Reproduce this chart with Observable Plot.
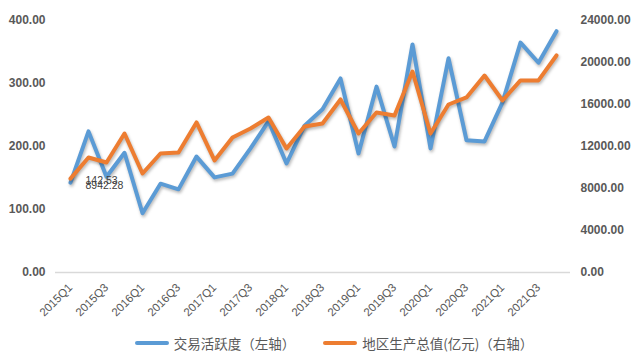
<!DOCTYPE html>
<html>
<head>
<meta charset="utf-8">
<script src="https://cdn.jsdelivr.net/npm/d3@7"></script>
<script src="https://cdn.jsdelivr.net/npm/@observablehq/plot@0.6"></script>
<style>
  body { margin: 0; background: #fff; font-family: "Noto Sans CJK SC", "Liberation Sans", sans-serif; }
  #chart { width: 640px; height: 358px; overflow: hidden; }
  .legend { display: flex; justify-content: center; align-items: center; padding-left: 28px; margin-top: 4px; font-size: 13.5px; color: #595959; height: 22px; }
  .legend .item { display: flex; align-items: center; margin: 0 14px; }
  .legend .sw { display: inline-block; width: 34px; height: 4px; border-radius: 2px; margin-right: 5px; }
</style>
</head>
<body>
<div id="chart"></div>
<script>
const quarters = [
  "2015Q1","2015Q2","2015Q3","2015Q4",
  "2016Q1","2016Q2","2016Q3","2016Q4",
  "2017Q1","2017Q2","2017Q3","2017Q4",
  "2018Q1","2018Q2","2018Q3","2018Q4",
  "2019Q1","2019Q2","2019Q3","2019Q4",
  "2020Q1","2020Q2","2020Q3","2020Q4",
  "2021Q1","2021Q2","2021Q3","2021Q4"
];
const activity = [
  142.53, 224, 152, 190,
  94, 141, 132, 184,
  151, 157, 197, 240,
  173, 233, 259, 308,
  189, 295, 200, 362,
  197, 340, 210, 208,
  270, 365, 333, 383
];
const gdp = [
  8942.28, 10950, 10480, 13240,
  9430, 11330, 11430, 14290,
  10670, 12860, 13710, 14760,
  11810, 13900, 14190, 16480,
  13240, 15240, 14950, 19140,
  13240, 16000, 16670, 18760,
  16380, 18290, 18290, 20670
];
const leftTicks = [0, 100, 200, 300, 400];
const rightTicks = [0, 4000, 8000, 12000, 16000, 20000, 24000];
const xTickLabels = quarters.filter((q, i) => i % 2 === 0);
const seriesNames = ["交易活跃度（左轴）", "地区生产总值(亿元)（右轴）"];
const seriesColors = ["#5B9BD5", "#ED7D31"];
const labelValues = [activity[0], gdp[0]];

const ratio = rightTicks[rightTicks.length - 1] / leftTicks[leftTicks.length - 1];
const actData = quarters.map((q, i) => ({q, v: activity[i]}));
const gdpData = quarters.map((q, i) => ({q, v: gdp[i]}));

const chart = Plot.plot({
  width: 640,
  height: 328,
  marginLeft: 55,
  marginRight: 70,
  marginTop: 20,
  marginBottom: 56,
  x: {type: "point", domain: quarters, padding: 0.44},
  y: {domain: [0, 400]},
  style: {fontFamily: "'Liberation Sans', Arial, sans-serif", color: "#595959", background: "white"},
  marks: [
    Plot.ruleY([0], {stroke: "#d9d9d9", strokeWidth: 1.5}),
    Plot.axisY(leftTicks, {tickSize: 0, tickPadding: 10, tickFormat: d => d.toFixed(2), fontWeight: "bold", fontSize: 12, label: null}),
    Plot.axisY(rightTicks.map(v => v / ratio), {anchor: "right", tickSize: 0, tickPadding: 10, tickFormat: d => (d * ratio).toFixed(2), fontWeight: "bold", fontSize: 12, label: null}),
    Plot.axisX(xTickLabels, {tickSize: 0, tickPadding: 13, tickRotate: -45, fontSize: 11.5, label: null}),
    Plot.line(actData, {x: "q", y: "v", stroke: seriesColors[0], strokeWidth: 4, strokeLinejoin: "round", strokeLinecap: "round"}),
    Plot.line(gdpData, {x: "q", y: d => d.v / ratio, stroke: seriesColors[1], strokeWidth: 4, strokeLinejoin: "round", strokeLinecap: "round"}),
    Plot.text([{q: quarters[0], v: activity[0]}], {x: "q", y: "v", text: () => labelValues[0].toFixed(2), dx: 15, dy: -2, textAnchor: "start", fontSize: 10.5, fill: "#404040"}),
    Plot.text([{q: quarters[0], v: gdp[0] / ratio}], {x: "q", y: "v", text: () => labelValues[1].toFixed(2), dx: 15, dy: 7, textAnchor: "start", fontSize: 10.5, fill: "#404040"})
  ]
});
d3.select(chart).selectAll("g[aria-label='line'] path").style("filter", "drop-shadow(1px 2px 1.5px rgba(0,0,0,0.28))");
document.getElementById("chart").appendChild(chart);

const legend = document.createElement("div");
legend.className = "legend";
seriesNames.forEach((name, i) => {
  const item = document.createElement("div");
  item.className = "item";
  const sw = document.createElement("span");
  sw.className = "sw";
  sw.style.background = seriesColors[i];
  const t = document.createElement("span");
  t.textContent = name;
  item.appendChild(sw);
  item.appendChild(t);
  legend.appendChild(item);
});
document.getElementById("chart").appendChild(legend);
</script>
</body>
</html>
